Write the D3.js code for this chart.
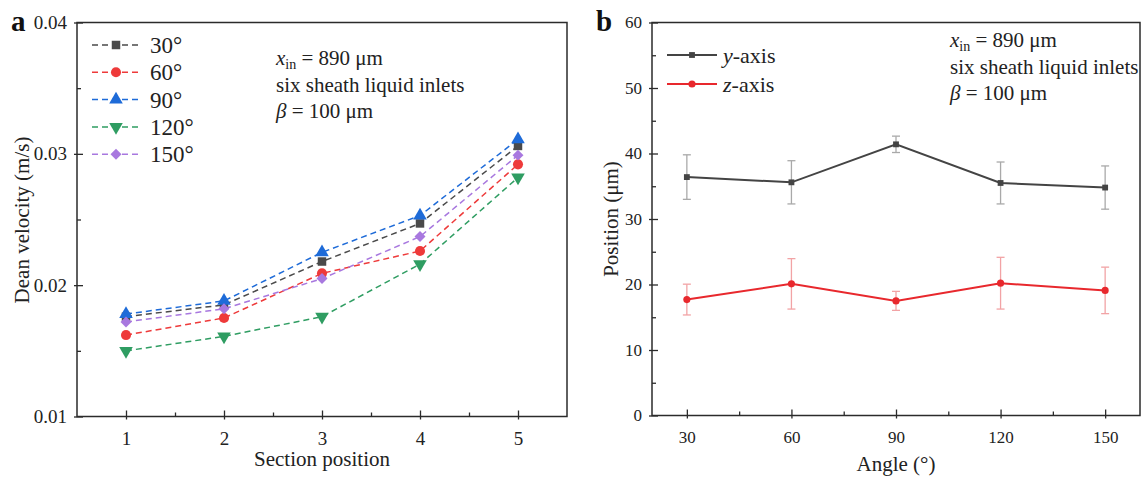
<!DOCTYPE html>
<html>
<head>
<meta charset="utf-8">
<script src="https://cdn.jsdelivr.net/npm/d3@7"></script>
<style>
  body { margin: 0; background: #fff; }
  svg, svg text { font-family: "Liberation Serif", "DejaVu Serif", serif; }
</style>
</head>
<body>
<div id="chart"></div>
<script>
// panel a: Dean velocity at each section
var sections = [1, 2, 3, 4, 5];
var angleNames = ['30°', '60°', '90°', '120°', '150°'];
var v30  = [0.0176, 0.0185, 0.0218, 0.0247, 0.0306];
var v60  = [0.0162, 0.0175, 0.0209, 0.0226, 0.0292];
var v90  = [0.0178, 0.0188, 0.0225, 0.0253, 0.0311];
var v120 = [0.0150, 0.0161, 0.0176, 0.0216, 0.0282];
var v150 = [0.0172, 0.0182, 0.0205, 0.0237, 0.0299];

// panel b: focusing position vs angle
var angles = [30, 60, 90, 120, 150];
var yPos = [36.4, 35.6, 41.4, 35.5, 34.8];
var yErr = [3.4, 3.3, 1.25, 3.2, 3.3];
var zPos = [17.7, 20.1, 17.5, 20.2, 19.1];
var zErr = [2.35, 3.85, 1.45, 3.95, 3.55];

var serif = '"Liberation Serif", "DejaVu Serif", serif';

var svg = d3.select('#chart').append('svg')
    .attr('width', 1142)
    .attr('height', 477)
    .attr('font-family', serif);

var axisCol = '#2b2b2b';

function frame(x0, x1, y0, y1) {
    svg.append('rect')
        .attr('x', x0).attr('y', y0)
        .attr('width', x1 - x0).attr('height', y1 - y0)
        .attr('fill', 'none')
        .attr('stroke', axisCol)
        .attr('stroke-width', 1.5);
}

function axes(x, y, xTicks, xMinor, yTicks, yMinor, xFmt, yFmt, fs) {
    var x0 = x.range()[0], y0 = y.range()[0];
    // minor ticks
    svg.append('g').attr('transform', `translate(0,${y0})`)
        .call(d3.axisBottom(x).tickValues(xMinor).tickSize(-4).tickFormat(''))
        .call(g => g.select('.domain').remove());
    svg.append('g').attr('transform', `translate(${x0},0)`)
        .call(d3.axisLeft(y).tickValues(yMinor).tickSize(-4).tickFormat(''))
        .call(g => g.select('.domain').remove());
    // major ticks, poking a little outside the frame
    var gx = svg.append('g').attr('transform', `translate(0,${y0})`)
        .call(d3.axisBottom(x).tickValues(xTicks).tickSize(-6).tickPadding(15).tickFormat(xFmt))
        .call(g => g.select('.domain').remove());
    gx.selectAll('.tick line').attr('y1', 3);
    var gy = svg.append('g').attr('transform', `translate(${x0},0)`)
        .call(d3.axisLeft(y).tickValues(yTicks).tickSize(-6).tickPadding(10).tickFormat(yFmt))
        .call(g => g.select('.domain').remove());
    gy.selectAll('.tick line').attr('x1', -3);
    svg.selectAll('.tick line').attr('stroke', axisCol).attr('stroke-width', 1.3);
    [gx, gy].forEach(g => g.selectAll('text')
        .attr('font-family', serif)
        .attr('font-size', fs)
        .attr('fill', '#222'));
}

// ---------- panel a ----------
var xa = d3.scaleLinear().domain([0.5, 5.5]).range([77, 567]);
var ya = d3.scaleLinear().domain([0.01, 0.04]).range([416.5, 22.5]);

axes(xa, ya, sections, [1.5, 2.5, 3.5, 4.5], [0.01, 0.02, 0.03, 0.04], [0.015, 0.025, 0.035],
     d3.format('d'), d3.format('.2f'), 19);

var seriesA = [
    { name: angleNames[0], vals: v30,  color: '#4a4a4a', sym: d3.symbolSquare,   rot: 0,   size: 72 },
    { name: angleNames[1], vals: v60,  color: '#ee3a3a', sym: d3.symbolCircle,   rot: 0,   size: 80 },
    { name: angleNames[2], vals: v90,  color: '#1e6bd8', sym: d3.symbolTriangle, rot: 0,   size: 80 },
    { name: angleNames[3], vals: v120, color: '#2f9d62', sym: d3.symbolTriangle, rot: 180, size: 80 },
    { name: angleNames[4], vals: v150, color: '#a878df', sym: d3.symbolSquare,   rot: 45,  size: 60 }
];

var lineA = d3.line().x((d, i) => xa(sections[i])).y(d => ya(d));

seriesA.forEach(s => {
    svg.append('path')
        .attr('d', lineA(s.vals))
        .attr('fill', 'none')
        .attr('stroke', s.color)
        .attr('stroke-width', 1.5)
        .attr('stroke-dasharray', '6,4');
});
seriesA.forEach(s => {
    svg.append('g').selectAll('path')
        .data(s.vals)
        .join('path')
        .attr('d', d3.symbol().type(s.sym).size(s.size))
        .attr('transform', (d, i) => `translate(${xa(sections[i])},${ya(d)}) rotate(${s.rot})`)
        .attr('fill', s.color);
});

frame(77, 567, 22.5, 416.5);

// legend a
var legA = svg.append('g').attr('transform', 'translate(92,45)');
seriesA.forEach((s, i) => {
    var g = legA.append('g').attr('transform', `translate(0,${i * 27.3})`);
    g.append('line').attr('x1', 0).attr('x2', 48).attr('y1', 0).attr('y2', 0)
        .attr('stroke', s.color).attr('stroke-width', 1.5).attr('stroke-dasharray', '6,4');
    g.append('path').attr('d', d3.symbol().type(s.sym).size(s.size))
        .attr('transform', `translate(24,0) rotate(${s.rot})`).attr('fill', s.color);
    g.append('text').attr('x', 58).attr('y', 8).attr('font-size', 23)
        .attr('font-family', serif).attr('fill', '#222').text(s.name);
});

function note(x, y) {
    var t = svg.append('g').attr('font-size', 21).attr('font-family', serif).attr('fill', '#222');
    var t1 = t.append('text').attr('x', x).attr('y', y);
    t1.append('tspan').attr('font-style', 'italic').text('x');
    t1.append('tspan').attr('font-size', 14).attr('dy', 4).text('in');
    t1.append('tspan').attr('dy', -4).text(' = 890 μm');
    t.append('text').attr('x', x).attr('y', y + 27).text('six sheath liquid inlets');
    var t3 = t.append('text').attr('x', x).attr('y', y + 53);
    t3.append('tspan').attr('font-style', 'italic').text('β');
    t3.append('tspan').text(' = 100 μm');
}
note(276, 65);

function label(x, y, rot, txt) {
    svg.append('text').attr('transform', `translate(${x},${y}) rotate(${rot})`)
        .attr('text-anchor', 'middle').attr('font-size', 21)
        .attr('font-family', serif).attr('fill', '#222').text(txt);
}
label(322, 466, 0, 'Section position');
label(29, 220, -90, 'Dean velocity (m/s)');
svg.append('text').attr('x', 11).attr('y', 31).attr('font-size', 29).attr('font-weight', 'bold')
    .attr('font-family', serif).attr('fill', '#111').text('a');

// ---------- panel b ----------
var xb = d3.scaleLinear().domain([20, 160]).range([652, 1140]);
var yb = d3.scaleLinear().domain([0, 60]).range([415.5, 22.5]);

axes(xb, yb, angles, [45, 75, 105, 135], [0, 10, 20, 30, 40, 50, 60], [5, 15, 25, 35, 45, 55],
     d3.format('d'), d3.format('d'), 17);

var seriesB = [
    { name: 'y', vals: yPos, err: yErr, color: '#444444', errColor: '#a9a9a9', sym: d3.symbolSquare, size: 34 },
    { name: 'z', vals: zPos, err: zErr, color: '#e8282d', errColor: '#f2a3a5', sym: d3.symbolCircle, size: 40 }
];

var lineB = d3.line().x((d, i) => xb(angles[i])).y(d => yb(d));

seriesB.forEach(s => {
    var eg = svg.append('g').attr('stroke', s.errColor).attr('stroke-width', 1.3);
    s.vals.forEach((v, i) => {
        var cx = xb(angles[i]);
        var lo = yb(v - s.err[i]), hi = yb(v + s.err[i]);
        eg.append('line').attr('x1', cx).attr('x2', cx).attr('y1', lo).attr('y2', hi);
        eg.append('line').attr('x1', cx - 4).attr('x2', cx + 4).attr('y1', lo).attr('y2', lo);
        eg.append('line').attr('x1', cx - 4).attr('x2', cx + 4).attr('y1', hi).attr('y2', hi);
    });
});
seriesB.forEach(s => {
    svg.append('path')
        .attr('d', lineB(s.vals))
        .attr('fill', 'none')
        .attr('stroke', s.color)
        .attr('stroke-width', 2);
    svg.append('g').selectAll('path')
        .data(s.vals)
        .join('path')
        .attr('d', d3.symbol().type(s.sym).size(s.size))
        .attr('transform', (d, i) => `translate(${xb(angles[i])},${yb(d)})`)
        .attr('fill', s.color);
});

frame(652, 1140, 22.5, 415.5);

// legend b
var legB = svg.append('g').attr('transform', 'translate(667,55)');
seriesB.forEach((s, i) => {
    var g = legB.append('g').attr('transform', `translate(0,${i * 29})`);
    g.append('line').attr('x1', 0).attr('x2', 50).attr('y1', 0).attr('y2', 0)
        .attr('stroke', s.color).attr('stroke-width', 2);
    g.append('path').attr('d', d3.symbol().type(s.sym).size(s.size))
        .attr('transform', 'translate(25,0)').attr('fill', s.color);
    var t = g.append('text').attr('x', 56).attr('y', 7.5).attr('font-size', 22)
        .attr('font-family', serif).attr('fill', '#222');
    t.append('tspan').attr('font-style', 'italic').text(s.name);
    t.append('tspan').text('-axis');
});

note(950, 47);

label(896, 471, 0, 'Angle (°)');
label(618, 219, -90, 'Position (μm)');
svg.append('text').attr('x', 596).attr('y', 31).attr('font-size', 29).attr('font-weight', 'bold')
    .attr('font-family', serif).attr('fill', '#111').text('b');
</script>
</body>
</html>
